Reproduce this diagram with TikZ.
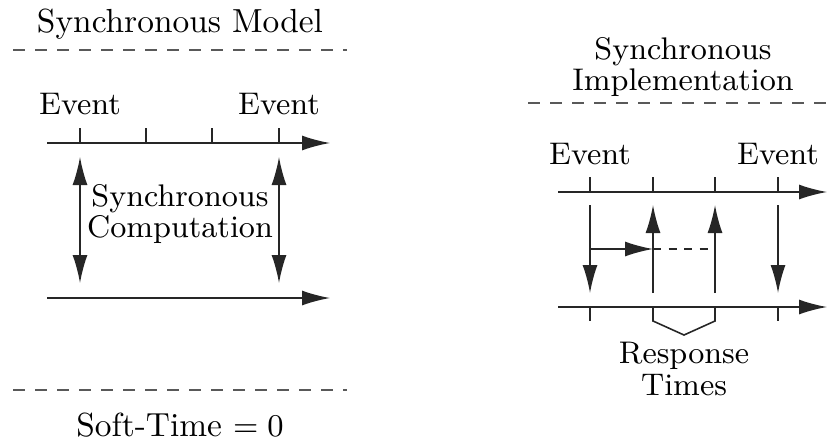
\documentclass[tikz,border=0pt]{standalone}
\usetikzlibrary{arrows.meta}
\begin{document}
\begin{tikzpicture}[
    font=\fontsize{8.9}{9.1}\selectfont,
    >={Latex[length=2.8mm,width=1.5mm]},
    line/.style={draw=black!85, line width=0.45pt},
    sep/.style={draw=black!65, line width=0.45pt, dash pattern=on 1.2mm off 1mm},
    lbl/.style={align=center, inner sep=0pt},
    big/.style={lbl, font=\fontsize{9.5}{9.5}\selectfont}]
    \useasboundingbox (0,0) rectangle (8.35,4.41);

    % Synchronous model: title and separators
    \node[big] (mtitle) at (1.80,4.17) {Synchronous Model};
    \coordinate (msepAl) at (0.13,3.91); \coordinate (msepAr) at (3.47,3.91);
    \coordinate (msepBl) at (0.13,0.51); \coordinate (msepBr) at (3.47,0.51);
    \draw[sep] (msepAl) -- (msepAr);
    \draw[sep] (msepBl) -- (msepBr);
    \node[big] (msoft) at (1.80,0.16) {Soft-Time $=0$};

    % Top time line with ticks
    \coordinate (mtopS) at (0.47,2.98); \coordinate (mtopE) at (3.30,2.98);
    \draw[line,->] (mtopS) -- (mtopE);
    \coordinate (mt1) at (0.80,2.98); \coordinate (mt2) at (1.46,2.98);
    \coordinate (mt3) at (2.12,2.98); \coordinate (mt4) at (2.79,2.98);
    \draw[line] (mt1) -- ++(0,0.15) (mt2) -- ++(0,0.15)
                (mt3) -- ++(0,0.15) (mt4) -- ++(0,0.15);
    \node[lbl] (mev1) at (0.80,3.37) {Event};
    \node[lbl] (mev2) at (2.79,3.37) {Event};

    % Bottom time line
    \coordinate (mbotS) at (0.47,1.43); \coordinate (mbotE) at (3.30,1.43);
    \draw[line,->] (mbotS) -- (mbotE);

    % Computation arrows
    \coordinate (mca) at (0.80,2.84); \coordinate (mcb) at (0.80,1.58);
    \coordinate (mcc) at (2.79,2.84); \coordinate (mcd) at (2.79,1.58);
    \draw[line,<->] (mca) -- (mcb);
    \draw[line,<->] (mcc) -- (mcd);
    \node[lbl] (mcomp) at (1.80,2.27) {Synchronous\\Computation};

    % Synchronous implementation: title and separator
    \node[lbl] (ititle) at (6.83,3.74) {Synchronous\\Implementation};
    \coordinate (isepl) at (5.28,3.38); \coordinate (isepr) at (8.40,3.38);
    \draw[sep] (isepl) -- (isepr);

    % Top time line with ticks
    \coordinate (itopS) at (5.58,2.49); \coordinate (itopE) at (8.27,2.49);
    \draw[line,->] (itopS) -- (itopE);
    \coordinate (it1) at (5.90,2.49); \coordinate (it2) at (6.53,2.49);
    \coordinate (it3) at (7.15,2.49); \coordinate (it4) at (7.78,2.49);
    \draw[line] (it1) -- ++(0,0.15) (it2) -- ++(0,0.15)
                (it3) -- ++(0,0.15) (it4) -- ++(0,0.15);
    \node[lbl] (iev1) at (5.90,2.87) {Event};
    \node[lbl] (iev2) at (7.78,2.87) {Event};

    % Bottom time line with ticks
    \coordinate (ibotS) at (5.58,1.34); \coordinate (ibotE) at (8.27,1.34);
    \draw[line,->] (ibotS) -- (ibotE);
    \coordinate (ib1) at (5.90,1.34); \coordinate (ib4) at (7.78,1.34);
    \draw[line] (ib1) -- ++(0,-0.14) (ib4) -- ++(0,-0.14);

    % Task arrows
    \coordinate (ia1) at (5.90,2.36); \coordinate (ib1a) at (5.90,1.48);
    \coordinate (ia2) at (6.53,2.36); \coordinate (ib2a) at (6.53,1.48);
    \coordinate (ia3) at (7.15,2.36); \coordinate (ib3a) at (7.15,1.48);
    \coordinate (ia4) at (7.78,2.36); \coordinate (ib4a) at (7.78,1.48);
    \draw[line,->] (ia1) -- (ib1a);
    \draw[line,->] (ib2a) -- (ia2);
    \draw[line,->] (ib3a) -- (ia3);
    \draw[line,->] (ia4) -- (ib4a);
    \coordinate (ih1) at (5.90,1.92); \coordinate (ih2) at (6.53,1.92);
    \coordinate (ih3) at (7.15,1.92);
    \draw[line,->] (ih1) -- (ih2);
    \draw[line,dash pattern=on 0.8mm off 0.75mm] (ih2) -- (ih3);

    % Response time brace
    \coordinate (ir1) at (6.53,1.34); \coordinate (ir2) at (7.15,1.34);
    \coordinate (irtip) at (6.84,1.06);
    \draw[line] (ir1) -- ++(0,-0.14) -- (irtip) -- (7.15,1.20) -- (ir2);
    \node[lbl] (iresp) at (6.84,0.72) {Response\\Times};
\end{tikzpicture}
\end{document}
